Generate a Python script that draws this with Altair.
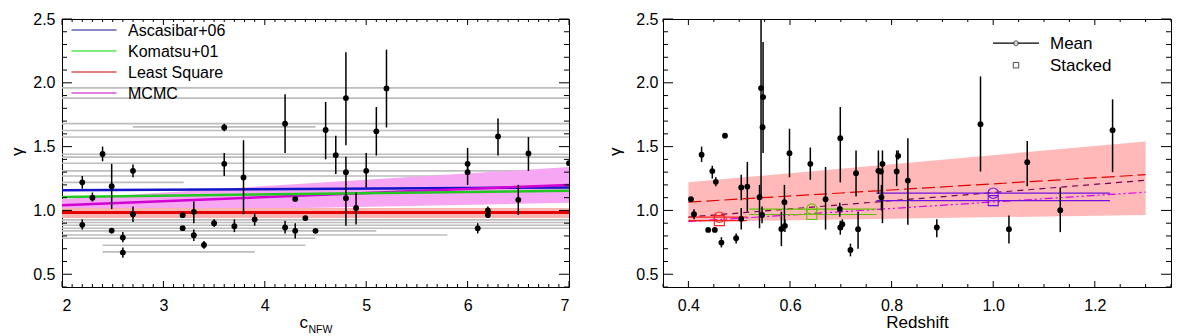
import altair as alt
import pandas as pd

FONT = "Liberation Sans"
W1, W2, H = 507, 508, 268

# ---------------- left panel data (gamma vs c_NFW) ----------------
c_x = [2.20, 2.20, 2.30, 2.40, 2.49, 2.49, 2.60, 2.60, 2.70, 2.70,
       3.19, 3.19, 3.30, 3.30, 3.40, 3.50, 3.60, 3.60, 3.70, 3.79,
       3.90, 4.20, 4.20, 4.30, 4.30, 4.40, 4.50, 4.60, 4.70, 4.80,
       4.80, 4.80, 4.90, 5.00, 5.10, 5.20, 6.00, 6.00, 6.10, 6.20,
       6.20, 6.30, 6.50, 6.60, 7.00]
c_g = [1.22, 0.887, 1.10, 1.443, 1.19, 0.842, 0.787, 0.67, 1.31, 0.97,
       0.963, 0.861, 0.989, 0.806, 0.73, 0.90, 1.65, 1.365, 0.876, 1.258,
       0.93, 1.68, 0.866, 1.09, 0.84, 0.94, 0.84, 1.63, 1.433, 1.88,
       1.30, 1.096, 1.02, 1.31, 1.62, 1.956, 1.365, 1.30, 0.86, 1.00,
       0.965, 1.58, 1.083, 1.446, 1.37]
c_lo = [1.17, 0.85, 1.07, 1.385, 1.01, 0.82, 0.75, 0.63, 1.26, 0.91,
        0.963, 0.861, 0.90, 0.76, 0.70, 0.87, 1.62, 1.27, 0.83, 0.97,
        0.88, 1.45, 0.82, 1.09, 0.78, 0.94, 0.84, 1.40, 1.285, 1.51,
        1.19, 0.88, 0.89, 1.18, 1.43, 1.65, 1.30, 1.20, 0.82, 0.98,
        0.94, 1.43, 0.965, 1.31, 1.37]
c_hi = [1.27, 0.93, 1.14, 1.50, 1.365, 0.86, 0.83, 0.71, 1.36, 1.03,
        0.963, 0.861, 1.07, 0.85, 0.76, 0.93, 1.68, 1.45, 0.93, 1.55,
        0.98, 1.91, 0.92, 1.09, 0.90, 0.94, 0.84, 1.85, 1.585, 2.24,
        1.42, 1.19, 1.14, 1.45, 1.81, 2.26, 1.49, 1.36, 0.90, 1.03,
        0.99, 1.72, 1.20, 1.575, 1.37]

# grey horizontal lines (value, c range)
grey_g = [1.96, 1.88, 1.68, 1.655, 1.626, 1.575, 1.44, 1.418, 1.37, 1.31,
          1.27, 1.22, 0.926, 0.905, 0.884, 0.86, 0.84, 0.808, 0.782, 0.727, 0.675]
grey_c0 = [2.0, 2.0, 2.0, 2.7, 2.0, 2.0, 2.0, 2.0, 2.0, 2.0,
           2.0, 2.0, 2.0, 2.0, 2.0, 2.0, 2.0, 2.0, 2.0, 2.4, 2.4]
grey_c1 = [7.0, 7.0, 7.0, 4.5, 7.0, 7.0, 7.0, 7.0, 7.0, 7.0,
           7.0, 3.2, 7.0, 7.0, 7.0, 7.0, 5.1, 5.8, 4.5, 4.4, 3.9]

fit_c = [2.0, 7.0]
asc_g = [1.158, 1.18]
kom_g = [1.105, 1.155]
lsq_g = [0.983, 0.983]
mcmc_g = [1.04, 1.20]
lsq_band_lo = [0.94, 0.94]
lsq_band_hi = [1.02, 1.02]
mcmc_band_lo = [0.98, 1.06]
mcmc_band_hi = [1.09, 1.34]

left_models = ["Ascasibar+06", "Komatsu+01", "Least Square", "MCMC"]
left_legend_colors = ["#12129c", "#00d800", "#c80000", "#c800c8"]

# ---------------- right panel data (gamma vs redshift) ----------------
z_x = [0.405, 0.411, 0.426, 0.439, 0.447, 0.452, 0.454, 0.465, 0.472, 0.494,
       0.504, 0.504, 0.516, 0.540, 0.543, 0.547, 0.546, 0.545, 0.583, 0.589,
       0.590, 0.599, 0.640, 0.670, 0.698, 0.699, 0.703, 0.699, 0.719, 0.730,
       0.734, 0.774, 0.779, 0.782, 0.780, 0.810, 0.813, 0.832, 0.889, 0.975,
       1.031, 1.067, 1.132, 1.235]
z_g = [1.088, 0.971, 1.436, 0.847, 1.308, 0.847, 1.224, 0.748, 1.585, 0.782,
       1.18, 0.934, 1.187, 1.104, 1.959, 1.888, 1.652, 0.965, 0.855, 1.065,
       0.879, 1.449, 1.365, 1.088, 1.012, 0.866, 0.892, 1.566, 0.69, 1.292,
       0.853, 1.31, 1.305, 1.365, 1.104, 1.305, 1.428, 1.234, 0.866, 1.676,
       0.853, 1.378, 1.002, 1.629]
z_lo = [1.088, 0.93, 1.38, 0.847, 1.25, 0.847, 1.19, 0.71, 1.585, 0.74,
        1.08, 0.85, 0.99, 0.86, 1.10, 1.45, 1.652, 0.90, 0.72, 0.88,
        0.83, 1.26, 1.24, 0.85, 0.95, 0.81, 0.85, 1.22, 0.64, 1.11,
        0.70, 1.13, 1.305, 0.90, 1.00, 1.19, 1.40, 0.887, 0.79, 1.305,
        0.74, 1.19, 0.83, 1.30]
z_hi = [1.088, 1.01, 1.50, 0.847, 1.35, 0.847, 1.26, 0.79, 1.585, 0.82,
        1.28, 1.02, 1.38, 1.20, 2.60, 2.32, 1.652, 1.03, 0.99, 1.20,
        0.93, 1.64, 1.493, 1.34, 1.06, 0.92, 0.93, 1.81, 0.74, 1.47,
        0.99, 1.47, 1.305, 1.47, 1.20, 1.47, 1.47, 1.566, 0.93, 2.05,
        0.96, 1.545, 1.18, 1.87]

z_fit = [0.40, 1.30]
z_band_lo = [0.91, 0.965]
z_band_hi = [1.22, 1.54]
z_lsq = [1.065, 1.28]
z_dash = [0.948, 1.236]
z_dashdot = [0.913, 1.143]

bin_names = ["bin1", "bin2", "bin3"]
bin_z0 = [0.40, 0.52, 0.77]
bin_z1 = [0.515, 0.77, 1.23]
bin_zc = [0.461, 0.643, 1.0]
bin_mean = [0.947, 1.01, 1.135]
bin_stacked = [0.92, 0.968, 1.077]
bin_colors = ["#ff2020", "#66c000", "#7010e0"]

# ---------------- helpers ----------------
def ticks(xs, ys, xax, yax, xmaj, xmin, ymaj, ymin, width, height):
    out = []
    for vals, ln in ((xmaj, 6), (xmin, 3)):
        d = pd.DataFrame({"v": vals})
        base = alt.Chart(d).mark_rule(color="black", strokeWidth=1)
        out.append(base.encode(x=alt.X("v:Q", scale=xs, axis=xax),
                               y=alt.value(height), y2=alt.value(height - ln)))
        out.append(base.encode(x=alt.X("v:Q", scale=xs, axis=xax),
                               y=alt.value(0), y2=alt.value(ln)))
    for vals, ln in ((ymaj, 10), (ymin, 5)):
        d = pd.DataFrame({"v": vals})
        base = alt.Chart(d).mark_rule(color="black", strokeWidth=1)
        out.append(base.encode(y=alt.Y("v:Q", scale=ys, axis=yax),
                               x=alt.value(0), x2=alt.value(ln)))
        out.append(base.encode(y=alt.Y("v:Q", scale=ys, axis=yax),
                               x=alt.value(width - ln), x2=alt.value(width)))
    return out


def label(text, x, y, size=16, color="black", align="left", baseline="middle", angle=0):
    return alt.Chart(pd.DataFrame({"t": [text]})).mark_text(
        font=FONT, fontSize=size, color=color, align=align, baseline=baseline, angle=angle
    ).encode(text="t:N", x=alt.value(x), y=alt.value(y))


def seg(x1, x2, y, color, width=1.2):
    return alt.Chart(pd.DataFrame({"a": [0]})).mark_rule(color=color, strokeWidth=width).encode(
        x=alt.value(x1), x2=alt.value(x2), y=alt.value(y))


y_major = [0.5, 1.0, 1.5, 2.0, 2.5]
y_minor = [round(0.4 + 0.1 * i, 2) for i in range(22) if round(0.4 + 0.1 * i, 2) not in y_major]

ys = alt.Scale(domain=[0.4, 2.5], nice=False, zero=False)
yax = alt.Axis(values=y_major, format=".1f", ticks=False, domain=False, grid=False,
               labelPadding=7, title=None)

# ---------------- left chart ----------------
xs1 = alt.Scale(domain=[2, 7], nice=False, zero=False)
xax1 = alt.Axis(values=[2, 3, 4, 5, 6, 7], format="d", ticks=False, domain=False, grid=False,
                labelPadding=10, title=None)
c_major = [2, 3, 4, 5, 6, 7]
c_minor = [round(2 + 0.1 * i, 2) for i in range(51) if (i % 10) != 0]

pts1 = pd.DataFrame({"c": c_x, "g": c_g, "lo": c_lo, "hi": c_hi})
grey = pd.DataFrame({"g": grey_g, "c0": grey_c0, "c1": grey_c1})

bands1 = pd.DataFrame({"c": fit_c * 2,
                       "lo": mcmc_band_lo + lsq_band_lo,
                       "hi": mcmc_band_hi + lsq_band_hi,
                       "band": ["MCMC", "MCMC", "Least Square", "Least Square"]})
lines1 = pd.DataFrame({"c": fit_c * 4,
                       "g": asc_g + kom_g + mcmc_g + lsq_g,
                       "model": ["Ascasibar+06"] * 2 + ["Komatsu+01"] * 2 + ["MCMC"] * 2 + ["Least Square"] * 2})

L = []
L.append(alt.Chart(grey).mark_rule(color="#bdbdbd", strokeWidth=1.6).encode(
    x=alt.X("c0:Q", scale=xs1, axis=xax1), x2="c1:Q",
    y=alt.Y("g:Q", scale=ys, axis=yax)))
L.append(alt.Chart(bands1[bands1.band == "MCMC"]).mark_area(color="#f6a6f2", opacity=1).encode(
    x=alt.X("c:Q", scale=xs1, axis=xax1), y=alt.Y("lo:Q", scale=ys, axis=yax), y2="hi:Q"))
L.append(alt.Chart(bands1[bands1.band == "Least Square"]).mark_area(color="#f8b4b0", opacity=1).encode(
    x=alt.X("c:Q", scale=xs1, axis=xax1), y=alt.Y("lo:Q", scale=ys, axis=yax), y2="hi:Q"))
for m, col, sw in zip(["Least Square", "Ascasibar+06", "MCMC", "Komatsu+01"],
                      ["#e60000", "#1414c8", "#d200d2", "#22c822"], [3, 2.5, 2.5, 2.5]):
    L.append(alt.Chart(lines1[lines1.model == m]).mark_line(color=col, strokeWidth=sw).encode(
        x=alt.X("c:Q", scale=xs1, axis=xax1), y=alt.Y("g:Q", scale=ys, axis=yax)))
L.append(alt.Chart(pts1).mark_rule(color="black", strokeWidth=1.5, clip=True).encode(
    x=alt.X("c:Q", scale=xs1, axis=xax1), y=alt.Y("lo:Q", scale=ys, axis=yax), y2="hi:Q"))
L.append(alt.Chart(pts1).mark_circle(color="black", size=34, opacity=1, clip=True).encode(
    x=alt.X("c:Q", scale=xs1, axis=xax1), y=alt.Y("g:Q", scale=ys, axis=yax)))
L += ticks(xs1, ys, xax1, yax, c_major, c_minor, y_major, y_minor, W1, H)
# legend
for i, (m, col) in enumerate(zip(left_models, left_legend_colors)):
    yy = 11 + 21 * i
    L.append(seg(9.5, 54.5, yy, col, 1.2))
    L.append(label(m, 66, yy + 1, 16))
# axis titles
L.append(label("γ", -43.6, 132.8, 17, align="center", angle=270))
L.append(label("c", 237.5, 309, 17, baseline="alphabetic"))
L.append(label("NFW", 246.5, 314, 10.5, baseline="alphabetic"))

left = alt.layer(*L).properties(width=W1, height=H)

# ---------------- right chart ----------------
xs2 = alt.Scale(domain=[0.35, 1.35], nice=False, zero=False)
xax2 = alt.Axis(values=[0.4, 0.6, 0.8, 1.0, 1.2], format=".1f", ticks=False, domain=False, grid=False,
                labelPadding=10, title="Redshift", titlePadding=1, titleFontSize=17)
z_major = [0.4, 0.6, 0.8, 1.0, 1.2]
z_minor = [round(0.35 + 0.05 * i, 2) for i in range(21) if round(0.35 + 0.05 * i, 2) not in z_major]
yax2 = alt.Axis(values=y_major, format=".1f", ticks=False, domain=False, grid=False,
                labelPadding=5, title=None)

pts2 = pd.DataFrame({"z": z_x, "g": z_g, "lo": z_lo, "hi": z_hi})
band2 = pd.DataFrame({"z": z_fit, "lo": z_band_lo, "hi": z_band_hi})
fits2 = pd.DataFrame({"z": z_fit * 3, "g": z_lsq + z_dash + z_dashdot,
                      "fit": ["lsq"] * 2 + ["dash"] * 2 + ["dashdot"] * 2})
bins = pd.DataFrame({"bin": bin_names, "z0": bin_z0, "z1": bin_z1, "zc": bin_zc,
                     "mean": bin_mean, "stacked": bin_stacked})
bcol = alt.Color("bin:N", scale=alt.Scale(domain=bin_names, range=bin_colors), legend=None)

R = []
R.append(alt.Chart(band2).mark_area(color="#ffb9b9", opacity=1).encode(
    x=alt.X("z:Q", scale=xs2, axis=xax2), y=alt.Y("lo:Q", scale=ys, axis=yax2), y2="hi:Q"))
for f, col, dash in (("dashdot", "#e000e0", [8, 3, 2, 3, 2, 3]),
                     ("dash", "#7a0050", [6, 5]),
                     ("lsq", "#e00000", [13, 5])):
    R.append(alt.Chart(fits2[fits2.fit == f]).mark_line(color=col, strokeWidth=1.2, strokeDash=dash).encode(
        x=alt.X("z:Q", scale=xs2, axis=xax2), y=alt.Y("g:Q", scale=ys, axis=yax2)))
for col in ("mean", "stacked"):
    R.append(alt.Chart(bins).mark_rule(strokeWidth=1.2).encode(
        x=alt.X("z0:Q", scale=xs2, axis=xax2), x2="z1:Q",
        y=alt.Y(f"{col}:Q", scale=ys, axis=yax2), color=bcol))
R.append(alt.Chart(bins).mark_point(shape="circle", filled=False, size=110, strokeWidth=1.1, opacity=1).encode(
    x=alt.X("zc:Q", scale=xs2, axis=xax2), y=alt.Y("mean:Q", scale=ys, axis=yax2), color=bcol))
R.append(alt.Chart(bins).mark_point(shape="square", filled=False, size=100, strokeWidth=1.1, opacity=1).encode(
    x=alt.X("zc:Q", scale=xs2, axis=xax2), y=alt.Y("stacked:Q", scale=ys, axis=yax2), color=bcol))
R.append(alt.Chart(pts2).mark_rule(color="black", strokeWidth=1.5, clip=True).encode(
    x=alt.X("z:Q", scale=xs2, axis=xax2), y=alt.Y("lo:Q", scale=ys, axis=yax2), y2="hi:Q"))
R.append(alt.Chart(pts2).mark_circle(color="black", size=34, opacity=1, clip=True).encode(
    x=alt.X("z:Q", scale=xs2, axis=xax2), y=alt.Y("g:Q", scale=ys, axis=yax2)))
R += ticks(xs2, ys, xax2, yax2, z_major, z_minor, y_major, y_minor, W2, H)
# legend
R.append(seg(330, 376, 24.2, "black", 1.2))
R.append(alt.Chart(pd.DataFrame({"a": [0]})).mark_point(shape="circle", filled=True, fill="white",
                                                          stroke="black", size=22, strokeWidth=1).encode(
    x=alt.value(353), y=alt.value(24.2)))
R.append(alt.Chart(pd.DataFrame({"a": [0]})).mark_point(shape="square", filled=False, color="black",
                                                          size=30, strokeWidth=1).encode(
    x=alt.value(353), y=alt.value(46.2)))
R.append(label("Mean", 387, 24.5, 17))
R.append(label("Stacked", 387, 46.5, 17))
R.append(label("γ", -47.4, 132.8, 17, align="center", angle=270))

right = alt.layer(*R).properties(width=W2, height=H)

chart = alt.hconcat(left, right, spacing=94, bounds="flush").properties(
    padding={"left": 0, "top": 2, "right": 0, "bottom": 0},
    background="white",
).configure_view(stroke="black", strokeWidth=1).configure_axis(
    labelFont=FONT, labelFontSize=16, labelColor="black",
    titleFont=FONT, titleFontWeight="normal", titleColor="black",
).configure_text(font=FONT)

chart.save("out.html", embed_options={"renderer": "svg", "actions": False})
